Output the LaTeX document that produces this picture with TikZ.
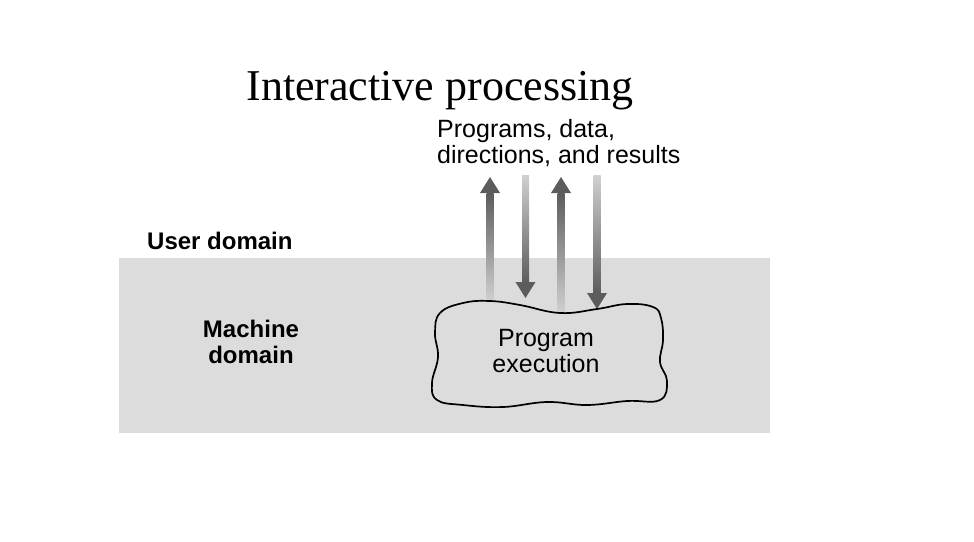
\documentclass[tikz,border=0pt]{standalone}
\usepackage{fontspec}
\setmainfont{Liberation Serif}
\setsansfont{Liberation Sans}
\usetikzlibrary{arrows.meta}
\definecolor{machinegray}{RGB}{220,220,220}
\definecolor{flowdark}{RGB}{92,92,92}
\definecolor{flowlight}{RGB}{208,208,208}

\begin{document}
\begin{tikzpicture}[x=1pt,y=-1pt,
  title text/.style={font=\fontsize{44}{46}\selectfont,inner sep=0pt},
  label text/.style={font=\sffamily\fontsize{25}{26}\selectfont,inner sep=0pt,align=left},
  domain text/.style={font=\sffamily\bfseries\fontsize{24}{26}\selectfont,inner sep=0pt,align=center}]
\useasboundingbox (0,0) rectangle (974,541);
\coordinate (up1 tip) at (490,177);
\coordinate (up1 tail) at (490,301);
\coordinate (down1 tail) at (525.5,175);
\coordinate (down1 tip) at (525.5,298);
\coordinate (up2 tip) at (561,177);
\coordinate (up2 tail) at (561,312);
\coordinate (down2 tail) at (597,175);
\coordinate (down2 tip) at (597,309);
\fill [machinegray] (119,258) rectangle (770,433);
\shade [top color=flowdark,middle color=flowdark!75!flowlight,bottom color=flowlight] ([shift={(-3.5,16)}]up1 tip) rectangle ([shift={(3.5,0)}]up1 tail);
\shade [top color=flowdark,middle color=flowdark!75!flowlight,bottom color=flowlight] ([shift={(-3.5,16)}]up2 tip) rectangle ([shift={(3.5,0)}]up2 tail);
\shade [top color=flowlight,middle color=flowdark!75!flowlight,bottom color=flowdark] ([shift={(-3.5,0)}]down1 tail) rectangle ([shift={(3.5,-16)}]down1 tip);
\shade [top color=flowlight,middle color=flowdark!75!flowlight,bottom color=flowdark] ([shift={(-3.5,0)}]down2 tail) rectangle ([shift={(3.5,-16)}]down2 tip);
\fill [flowdark] (up1 tip) -- ++(-10,16) -- ++(20,0) -- cycle;
\fill [flowdark] (up2 tip) -- ++(-10,16) -- ++(20,0) -- cycle;
\fill [flowdark] (down1 tip) -- ++(-10,-16) -- ++(20,0) -- cycle;
\fill [flowdark] (down2 tip) -- ++(-10,-16) -- ++(20,0) -- cycle;
\draw [line width=1.7pt] plot [smooth cycle,tension=0.7] coordinates {(440,313) (463,303) (490,301) (520,305) (560,313) (597,309) (627,304) (653,307) (661,318) (663,340) (660,362) (667,381) (660,400) (627,401) (587,405) (547,402) (503,407) (463,405) (437,400) (432,383) (438,357) (435,333)};
\node [title text,anchor=base] (title) at (440,100) {Interactive processing};
\node [label text,anchor=base west] (io) at (437,163) {Programs, data,\\directions, and results};
\node [domain text,anchor=base west] (user) at (147,249) {User domain};
\node [domain text,anchor=base] (machine) at (251,363) {Machine\\domain};
\node [label text,align=center,anchor=base] (exec) at (546,372) {Program\\execution};
\end{tikzpicture}
\end{document}
